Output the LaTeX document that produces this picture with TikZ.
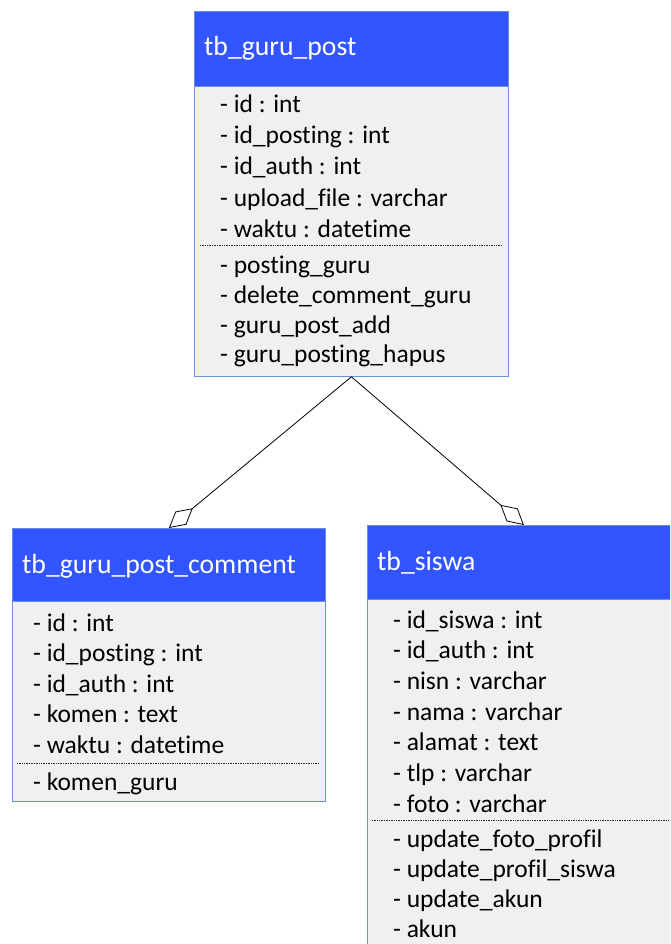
\documentclass[tikz,border=0pt]{standalone}
\usepackage{fontspec}
\setmainfont{Carlito}[Ligatures={NoCommon}]
\usetikzlibrary{arrows.meta}
\definecolor{hdr}{RGB}{51,85,255}
\definecolor{bodyfill}{RGB}{240,240,240}
\definecolor{edge}{RGB}{108,142,220}
\begin{document}
\begin{tikzpicture}[x=1pt,y=-1pt,
  hbox/.style={draw=edge, fill=hdr, line width=0.8pt, anchor=north west, inner sep=0pt},
  bbox/.style={draw=edge, fill=bodyfill, line width=0.8pt, anchor=north west, inner sep=0pt},
  htxt/.style={anchor=base west, text=white, font=\fontsize{27.7}{33}\selectfont, inner sep=0pt},
  row/.style={anchor=base west, font=\fontsize{25.5}{30}\selectfont, inner sep=0pt},
  sepline/.style={densely dotted, line width=0.7pt, draw=black!85},
  link/.style={line width=0.8pt, -{Diamond[open, length=31pt, width=17pt, line width=0.8pt]}}]
\useasboundingbox (0,0) rectangle (670,944);
\clip (0,0) rectangle (670,944);
\fill[white] (0,0) rectangle (670,944);

% ---- tb_guru_post ----
\node[bbox, minimum width=314pt, minimum height=290pt] (postbody) at (194,86) {};
\node[hbox, minimum width=314pt, minimum height=75pt] (post) at (194,11) {};
\node[htxt] (postT) at (204,56) {tb\_guru\_post};
\node[row] (p1) at (220,113) {- id : int};
\node[row] (p2) at (220,144) {- id\_posting : int};
\node[row] (p3) at (220,175) {- id\_auth : int};
\node[row] (p4) at (220,206) {- upload\_file : varchar};
\node[row] (p5) at (220,237) {- waktu : datetime};
\coordinate (ps1) at (200,245.5);
\coordinate (ps2) at (502,245.5);
\draw[sepline] (ps1) -- (ps2);
\node[row] (pm1) at (220,273) {- posting\_guru};
\node[row] (pm2) at (220,303) {- delete\_comment\_guru};
\node[row] (pm3) at (220,333) {- guru\_post\_add};
\node[row] (pm4) at (220,362.5) {- guru\_posting\_hapus};

% ---- tb_guru_post_comment ----
\node[bbox, minimum width=313pt, minimum height=200pt] (cmtbody) at (12,601) {};
\node[hbox, minimum width=313pt, minimum height=73pt] (cmt) at (12,528) {};
\node[htxt] (cmtT) at (22,573) {tb\_guru\_post\_comment};
\node[row] (c1) at (33,631) {- id : int};
\node[row] (c2) at (33,661.5) {- id\_posting : int};
\node[row] (c3) at (33,692) {- id\_auth : int};
\node[row] (c4) at (33,722.5) {- komen : text};
\node[row] (c5) at (33,753) {- waktu : datetime};
\coordinate (cs1) at (17,763);
\coordinate (cs2) at (319,763);
\draw[sepline] (cs1) -- (cs2);
\node[row] (cm1) at (33,790) {- komen\_guru};

% ---- tb_siswa ----
\node[bbox, minimum width=313pt, minimum height=370pt] (siswabody) at (367,599) {};
\node[hbox, minimum width=313pt, minimum height=74pt] (siswa) at (367,525) {};
\node[htxt] (siswaT) at (377,570) {tb\_siswa};
\node[row] (s1) at (393,628) {- id\_siswa : int};
\node[row] (s2) at (393,658.5) {- id\_auth : int};
\node[row] (s3) at (393,689) {- nisn : varchar};
\node[row] (s4) at (393,720) {- nama : varchar};
\node[row] (s5) at (393,750.5) {- alamat : text};
\node[row] (s6) at (393,781) {- tlp : varchar};
\node[row] (s7) at (393,812) {- foto : varchar};
\coordinate (ss1) at (372,820.5);
\coordinate (ss2) at (676,820.5);
\draw[sepline] (ss1) -- (ss2);
\node[row] (sm1) at (393,847) {- update\_foto\_profil};
\node[row] (sm2) at (393,877) {- update\_profil\_siswa};
\node[row] (sm3) at (393,907.5) {- update\_akun};
\node[row] (sm4) at (393,937) {- akun};

% ---- connectors ----
\draw[link] (postbody.south) -- (cmt.north);
\draw[link] (postbody.south) -- (siswa.north);
\end{tikzpicture}
\end{document}
